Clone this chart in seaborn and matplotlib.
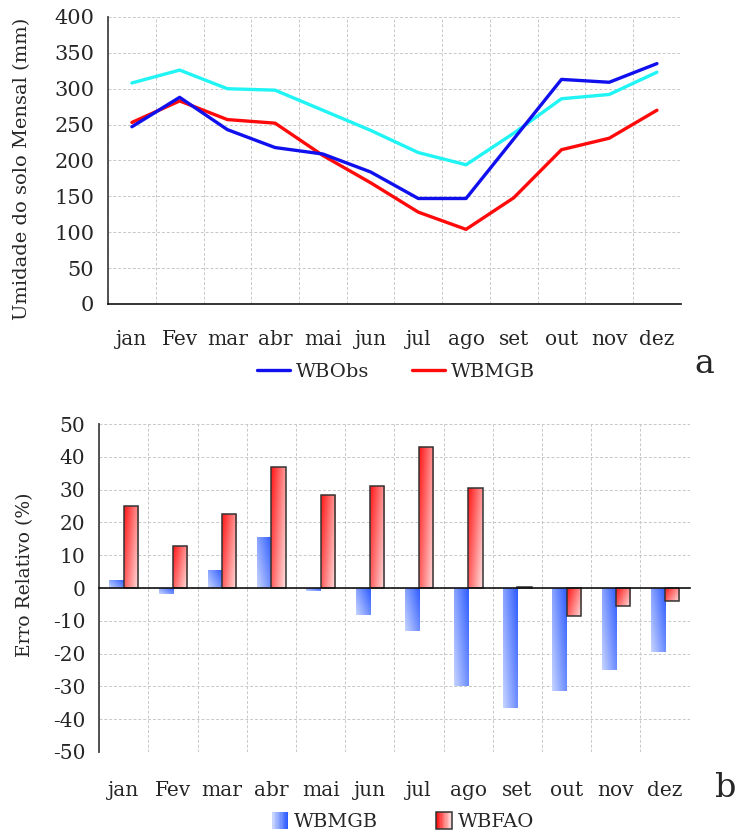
import numpy as np
import pandas as pd
import matplotlib
matplotlib.use("Agg")
import matplotlib.pyplot as plt
import seaborn as sns
from matplotlib.lines import Line2D
from matplotlib.patches import Rectangle, Patch
from matplotlib.legend_handler import HandlerBase
from matplotlib.colors import to_rgb

months = ["jan", "Fev", "mar", "abr", "mai", "jun", "jul", "ago", "set", "out", "nov", "dez"]

# painel a - umidade do solo mensal (mm)
wb_obs = [247, 288, 243, 218, 209, 184, 147, 147, 230, 313, 309, 335]
wb_mgb = [253, 283, 257, 252, 207, 169, 128, 104, 148, 215, 231, 270]
wb_cyan = [308, 326, 300, 298, 270, 242, 211, 194, 238, 286, 292, 323]

# painel b - erro relativo (%)
err_mgb = [2.5, -1.9, 5.4, 15.5, -0.9, -8.2, -13.2, -29.9, -36.7, -31.5, -25.1, -19.6]
err_fao = [24.9, 12.7, 22.5, 36.8, 28.5, 31.2, 42.9, 30.6, 0.3, -8.5, -5.4, -4.0]

sns.set_style("white")
plt.rcParams["font.family"] = ["DejaVu Serif"]
plt.rcParams["axes.unicode_minus"] = False

GRID = dict(linestyle=(0, (3, 2)), color="#c8c8c8", linewidth=0.7)
BLUE_S, BLUE_L = np.array(to_rgb("#2d5bff")), np.array(to_rgb("#c8d5ff"))
RED_S, RED_L = np.array(to_rgb("#ff1515")), np.array(to_rgb("#ffe2e2"))

fig = plt.figure(figsize=(7.4, 8.36), dpi=100)
ax1 = fig.add_axes([0.146, 0.6364, 0.774, 0.3433])
ax2 = fig.add_axes([0.134, 0.1005, 0.798, 0.3923])


def style_axis(ax, n, label_y, ysize):
    ax.set_xlim(-0.5, n - 0.5)
    ax.set_xticks(range(n))
    ax.set_xticks(np.arange(-0.5, n), minor=True)
    ax.tick_params(axis="x", which="major", length=0, labelbottom=False)
    ax.tick_params(axis="x", which="minor", length=6, width=1, direction="out", color="#222222")
    ax.tick_params(axis="y", length=8, width=1, direction="out", color="#444444", labelsize=ysize, pad=2)
    ax.xaxis.grid(True, which="minor", **GRID)
    ax.yaxis.grid(True, which="major", **GRID)
    ax.set_axisbelow(True)
    for s in ["top", "right"]:
        ax.spines[s].set_visible(False)
    ax.spines["left"].set_color("#444444")
    ax.spines["left"].set_linewidth(1.3)
    ax.spines["bottom"].set_color("#111111")
    ax.spines["bottom"].set_linewidth(1.2)
    for i, m in enumerate(months):
        ax.text(i, label_y, m, transform=ax.get_xaxis_transform(), ha="center", va="center", fontsize=14.5)


# ---- painel a ----
df_a = pd.DataFrame({
    "mes": list(range(12)) * 3,
    "valor": wb_obs + wb_mgb + wb_cyan,
    "serie": ["WBObs"] * 12 + ["WBMGB"] * 12 + ["WBcyan"] * 12,
})
sns.lineplot(data=df_a, x="mes", y="valor", hue="serie",
             palette={"WBObs": "#1010ee", "WBMGB": "#ff0a0a", "WBcyan": "#20f4f4"},
             hue_order=["WBcyan", "WBMGB", "WBObs"], linewidth=2.4, legend=False, ax=ax1)
ax1.set_ylim(0, 400)
ax1.set_yticks(range(0, 401, 50))
ax1.set_xlabel("")
ax1.set_ylabel("")
style_axis(ax1, 12, -0.125, 15)

fig.text(0.03, 0.798, "Umidade do solo Mensal (mm)", rotation=90, ha="center", va="center", fontsize=14)
fig.legend(handles=[Line2D([], [], color="#1010ee", lw=2.4), Line2D([], [], color="#ff0a0a", lw=2.4)],
           labels=["WBObs", "WBMGB"], loc="center", bbox_to_anchor=(0.535, 0.555), ncol=2,
           frameon=False, fontsize=14, handlelength=1.7, handletextpad=0.3, columnspacing=2.2)
fig.text(0.952, 0.565, "a", fontsize=24, ha="center", va="center")

# ---- painel b ----
df_b = pd.DataFrame({
    "mes": months * 2,
    "erro": err_mgb + err_fao,
    "serie": ["WBMGB"] * 12 + ["WBFAO"] * 12,
})
sns.barplot(data=df_b, x="mes", y="erro", hue="serie", order=months, hue_order=["WBMGB", "WBFAO"],
            width=0.58, legend=False, ax=ax2)
ax2.set_ylim(-50, 50)
ax2.set_yticks(range(-50, 51, 10))
ax2.set_xlabel("")
ax2.set_ylabel("")
style_axis(ax2, 12, -0.116, 14.5)
ax2.spines["bottom"].set_position(("data", 0))
ax2.axhline(-50, zorder=0.5, **GRID)

u, v = np.meshgrid(np.linspace(0, 1, 64), np.linspace(0, 1, 64))


def gradient_bar(ax, bar, strong, light, t):
    x0, w = bar.get_x(), bar.get_width()
    y0, h = bar.get_y(), bar.get_height()
    if h < 0:
        y0, h = y0 + h, -h
    cols = light + (strong - light) * t[..., None]
    im = ax.imshow(cols, extent=[x0, x0 + w, y0, y0 + h], origin="lower", aspect="auto",
                   interpolation="bilinear", zorder=1.5)
    im.set_clip_path(bar)
    bar.set_facecolor("none")


for bar in ax2.containers[0]:
    gradient_bar(ax2, bar, BLUE_S, BLUE_L, 0.6 * u + 0.4 * v)
    bar.set_edgecolor("none")
for bar in ax2.containers[1]:
    gradient_bar(ax2, bar, RED_S, RED_L, 0.65 * (1 - u) + 0.35 * v)
    bar.set_edgecolor("#333333")
    bar.set_linewidth(1.1)
    bar.set_zorder(2)
ax2.set_xlim(-0.5, 11.5)
ax2.set_ylim(-50, 50)

fig.text(0.034, 0.313, "Erro Relativo (%)", rotation=90, ha="center", va="center", fontsize=13.5)
fig.text(0.98, 0.058, "b", fontsize=24, ha="center", va="center")


class GradHandler(HandlerBase):
    def __init__(self, strong, light, flip, edge):
        super().__init__()
        self.strong, self.light, self.flip, self.edge = strong, light, flip, edge

    def create_artists(self, legend, orig, xd, yd, w, h, fs, trans):
        arts = []
        n = 12
        for i in range(n):
            t = i / (n - 1)
            if self.flip:
                t = 1 - t
            c = self.light + (self.strong - self.light) * t
            arts.append(Rectangle((-xd + w * i / n, -yd), w / n + 0.2, h, fc=c, ec="none", transform=trans))
        if self.edge:
            arts.append(Rectangle((-xd, -yd), w, h, fc="none", ec=self.edge, lw=1.1, transform=trans))
        return arts


h_mgb, h_fao = Patch(label="WBMGB"), Patch(label="WBFAO")
fig.legend(handles=[h_mgb, h_fao], labels=["WBMGB", "WBFAO"], loc="center",
           bbox_to_anchor=(0.545, 0.017), ncol=2, frameon=False, fontsize=14,
           handlelength=0.8, handleheight=0.9, handletextpad=0.3, columnspacing=3.0,
           handler_map={h_mgb: GradHandler(BLUE_S, BLUE_L, False, None),
                        h_fao: GradHandler(RED_S, RED_L, True, "#333333")})

fig.savefig("out.png", dpi=100)
